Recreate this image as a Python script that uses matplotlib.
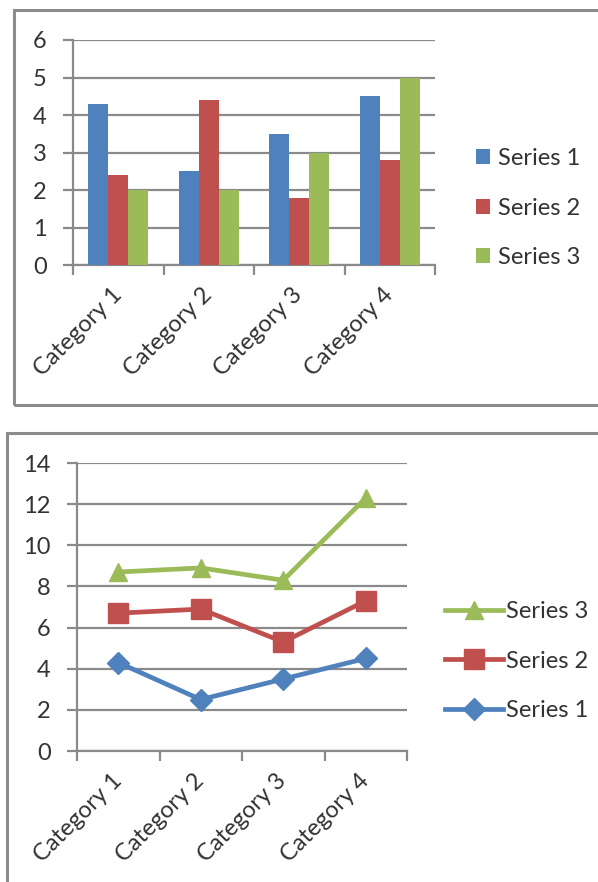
import matplotlib
matplotlib.use("Agg")
import matplotlib.pyplot as plt
from matplotlib.patches import Rectangle
from matplotlib.lines import Line2D
import numpy as np

plt.rcParams['font.family'] = ['Lato', 'DejaVu Sans']

categories = ["Category 1", "Category 2", "Category 3", "Category 4"]
series_names = ["Series 1", "Series 2", "Series 3"]
series_1 = [4.3, 2.5, 3.5, 4.5]
series_2 = [2.4, 4.4, 1.8, 2.8]
series_3 = [2.0, 2.0, 3.0, 5.0]
colors = ["#4F81BD", "#C0504D", "#9BBB59"]

GRID = "#8a8a8a"
TEXT = "#333333"
FS = 17

W, H = 598, 882
fig = plt.figure(figsize=(W / 100, H / 100), dpi=100)


def fx(px):
    return px / W


def fy(px):
    return 1 - px / H


def style_axes(ax, ymax, ystep):
    ax.set_xlim(-0.5, 3.5)
    ax.set_ylim(0, ymax)
    ax.set_yticks(np.arange(0, ymax + 0.1, ystep))
    ax.yaxis.grid(True, color=GRID, linewidth=1.6)
    ax.set_axisbelow(True)
    for side in ("top", "right"):
        ax.spines[side].set_visible(False)
    for side in ("left", "bottom"):
        ax.spines[side].set_color(GRID)
        ax.spines[side].set_linewidth(1.6)
    ax.tick_params(axis="y", length=7, width=1.6, color=GRID, pad=12,
                   labelsize=FS, labelcolor=TEXT)
    ax.set_xticks(np.arange(-0.5, 3.6, 1.0), minor=True)
    ax.set_xticks(range(len(categories)))
    ax.set_xticklabels(categories, rotation=45, ha="right", va="center",
                       rotation_mode="anchor", fontsize=FS, color=TEXT)
    ax.tick_params(axis="x", which="major", length=0, pad=19)
    ax.tick_params(axis="x", which="minor", length=7, width=1.6, color=GRID)


# outer frames of the two chart objects
fig.patches.append(Rectangle((fx(14), fy(405)), fx(620) - fx(14), fy(10) - fy(405),
                             transform=fig.transFigure, fill=False,
                             edgecolor="#8c8c8c", linewidth=2.2))
fig.patches.append(Rectangle((fx(7), fy(900)), fx(620) - fx(7), fy(433) - fy(900),
                             transform=fig.transFigure, fill=False,
                             edgecolor="#8c8c8c", linewidth=2.2))

# clustered column chart
ax1 = fig.add_axes([fx(73), fy(265), fx(435) - fx(73), fy(40) - fy(265)])
x = np.arange(len(categories))
bw = 1 / 4.5
for i, (vals, c, name) in enumerate(zip([series_1, series_2, series_3], colors, series_names)):
    ax1.bar(x + (i - 1) * bw, vals, width=bw, color=c, label=name, zorder=3)
style_axes(ax1, 6, 1)
ax1.legend(loc="center left", bbox_to_anchor=(fx(476), fy(208)),
           bbox_transform=fig.transFigure, frameon=False, fontsize=FS,
           borderpad=0, borderaxespad=0,
           handlelength=0.6, handleheight=0.6, handletextpad=0.35,
           labelspacing=1.2, labelcolor=TEXT)

# stacked line chart
ax2 = fig.add_axes([fx(77), fy(751), fx(407) - fx(77), fy(463) - fy(751)])
stacked = np.cumsum([series_1, series_2, series_3], axis=0)
markers = ["D", "s", "^"]
msizes = [11, 14, 13]
handles = []
for vals, c, m, ms, name in zip(stacked, colors, markers, msizes, series_names):
    ax2.plot(x, vals, color=c, linewidth=3.4, marker=m, markersize=ms,
             zorder=3, solid_joinstyle="round")
    handles.append(Line2D([], [], color=c, linewidth=3.4, marker=m, markersize=ms, label=name))
style_axes(ax2, 14, 2)
ax2.legend(handles=handles[::-1], loc="center left", bbox_to_anchor=(fx(445), fy(661)),
           bbox_transform=fig.transFigure, frameon=False, fontsize=FS,
           borderpad=0, borderaxespad=0,
           handlelength=2.45, handletextpad=0.15, labelspacing=1.2,
           labelcolor=TEXT)

fig.savefig("out.png", dpi=100)
